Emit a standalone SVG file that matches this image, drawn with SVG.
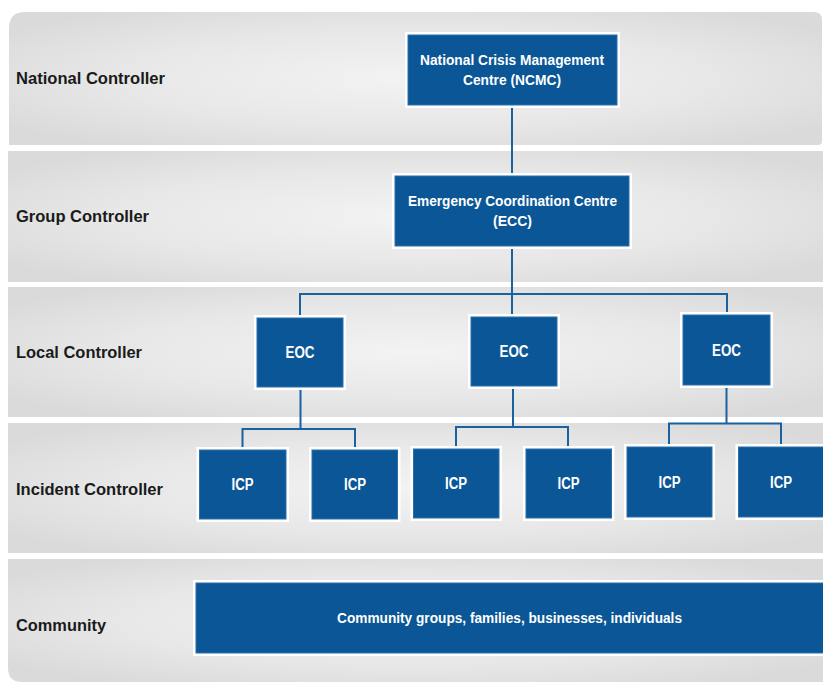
<svg xmlns="http://www.w3.org/2000/svg" width="823" height="682" viewBox="0 0 823 682">
  <defs>
    <radialGradient id="band" cx="50%" cy="50%" r="62%">
      <stop offset="0" stop-color="#f3f3f3"/>
      <stop offset="0.6" stop-color="#e7e7e7"/>
      <stop offset="1" stop-color="#dadada"/>
    </radialGradient>
    <style>
      .band { fill: url(#band); }
      .lab { font-family: "Liberation Sans", Arial, sans-serif; font-weight: bold; font-size: 16px; fill: #1a1a1a; }
      .halo { fill: #ffffff; }
      .box { fill: #0a5696; stroke: #2d6fab; stroke-width: 1; }
      .txt { font-family: "Liberation Sans", Arial, sans-serif; font-weight: bold; font-size: 14px; fill: #ffffff; text-anchor: middle; }
      .sm { font-size: 16px; }
      .con { fill: none; stroke: #1a61a1; stroke-width: 2; }
    </style>
  </defs>
  <rect width="823" height="682" fill="#ffffff"/>

  <g id="lanes">
    <g id="lane-national">
      <path class="band" d="M9,28 Q9,12 25,12 L814,12 Q822,12 822,20 L822,141 Q822,145 818,145 L9,145 Z"/>
      <text class="lab" x="16" y="84" textLength="149" lengthAdjust="spacingAndGlyphs">National Controller</text>
    </g>
    <g id="lane-group">
      <rect class="band" x="8" y="151" width="815" height="131"/>
      <text class="lab" x="16" y="222" textLength="133" lengthAdjust="spacingAndGlyphs">Group Controller</text>
    </g>
    <g id="lane-local">
      <rect class="band" x="8" y="287" width="815" height="130"/>
      <text class="lab" x="16" y="358" textLength="126" lengthAdjust="spacingAndGlyphs">Local Controller</text>
    </g>
    <g id="lane-incident">
      <rect class="band" x="8" y="423" width="815" height="130"/>
      <text class="lab" x="16" y="495" textLength="147" lengthAdjust="spacingAndGlyphs">Incident Controller</text>
    </g>
    <g id="lane-community">
      <path class="band" d="M8,559 L823,559 L823,682 L22,682 Q8,682 8,668 Z"/>
      <text class="lab" x="16" y="631" textLength="90" lengthAdjust="spacingAndGlyphs">Community</text>
    </g>
  </g>

  <g id="connectors">
    <path class="con" d="M512,105 V176"/>
    <path class="con" d="M512,246 V318"/>
    <path class="con" d="M300,318 V294 H727 V315"/>
    <path class="con" d="M300.5,387 V429"/>
    <path class="con" d="M242.5,450 V429 H355 V450"/>
    <path class="con" d="M513,386 V427"/>
    <path class="con" d="M456,449 V427 H568 V449"/>
    <path class="con" d="M726.5,385 V423.5"/>
    <path class="con" d="M669,447 V423.5 H781 V447"/>
  </g>

  <g id="ncmc">
    <rect class="halo" x="405" y="32" width="215" height="76"/>
    <rect class="box" x="408" y="35" width="209" height="70"/>
    <text class="txt" x="512" y="64.5" textLength="184" lengthAdjust="spacingAndGlyphs">National Crisis Management</text>
    <text class="txt" x="512" y="85" textLength="98" lengthAdjust="spacingAndGlyphs">Centre (NCMC)</text>
  </g>

  <g id="ecc">
    <rect class="halo" x="392" y="173" width="240" height="76"/>
    <rect class="box" x="395" y="176" width="234" height="70"/>
    <text class="txt" x="512.5" y="205.5" textLength="209" lengthAdjust="spacingAndGlyphs">Emergency Coordination Centre</text>
    <text class="txt" x="512.5" y="225.5" textLength="39" lengthAdjust="spacingAndGlyphs">(ECC)</text>
  </g>

  <g id="eoc1">
    <rect class="halo" x="254" y="315" width="92" height="75"/>
    <rect class="box" x="257" y="318" width="86" height="69"/>
    <text class="txt sm" x="300" y="357.5" textLength="29" lengthAdjust="spacingAndGlyphs">EOC</text>
  </g>
  <g id="eoc2">
    <rect class="halo" x="468" y="314" width="92" height="75"/>
    <rect class="box" x="471" y="317" width="86" height="69"/>
    <text class="txt sm" x="514" y="356.5" textLength="29" lengthAdjust="spacingAndGlyphs">EOC</text>
  </g>
  <g id="eoc3">
    <rect class="halo" x="680" y="312" width="93" height="76"/>
    <rect class="box" x="683" y="315" width="87" height="70"/>
    <text class="txt sm" x="726.5" y="355.5" textLength="29" lengthAdjust="spacingAndGlyphs">EOC</text>
  </g>

  <g id="icp1">
    <rect class="halo" x="196.5" y="447" width="92.5" height="75"/>
    <rect class="box" x="199.5" y="450" width="86.5" height="69"/>
    <text class="txt sm" x="242.5" y="490" textLength="22" lengthAdjust="spacingAndGlyphs">ICP</text>
  </g>
  <g id="icp2">
    <rect class="halo" x="309" y="447" width="91.5" height="75"/>
    <rect class="box" x="312" y="450" width="85.5" height="69"/>
    <text class="txt sm" x="355" y="490" textLength="22" lengthAdjust="spacingAndGlyphs">ICP</text>
  </g>
  <g id="icp3">
    <rect class="halo" x="410.5" y="446" width="91.5" height="75"/>
    <rect class="box" x="413.5" y="449" width="85.5" height="69"/>
    <text class="txt sm" x="456" y="489" textLength="22" lengthAdjust="spacingAndGlyphs">ICP</text>
  </g>
  <g id="icp4">
    <rect class="halo" x="523" y="446" width="91.5" height="75"/>
    <rect class="box" x="526" y="449" width="85.5" height="69"/>
    <text class="txt sm" x="568.5" y="489" textLength="22" lengthAdjust="spacingAndGlyphs">ICP</text>
  </g>
  <g id="icp5">
    <rect class="halo" x="624" y="444" width="91" height="76"/>
    <rect class="box" x="627" y="447" width="85" height="70"/>
    <text class="txt sm" x="669.5" y="487.5" textLength="22" lengthAdjust="spacingAndGlyphs">ICP</text>
  </g>
  <g id="icp6">
    <rect class="halo" x="735.5" y="444" width="94" height="76"/>
    <rect class="box" x="738.5" y="447" width="88" height="70"/>
    <text class="txt sm" x="781" y="487.5" textLength="22" lengthAdjust="spacingAndGlyphs">ICP</text>
  </g>

  <g id="community">
    <rect class="halo" x="193" y="580" width="639" height="76"/>
    <rect class="box" x="196" y="583" width="633" height="70"/>
    <text class="txt" x="509.5" y="623" textLength="345" lengthAdjust="spacingAndGlyphs">Community groups, families, businesses, individuals</text>
  </g>
</svg>
